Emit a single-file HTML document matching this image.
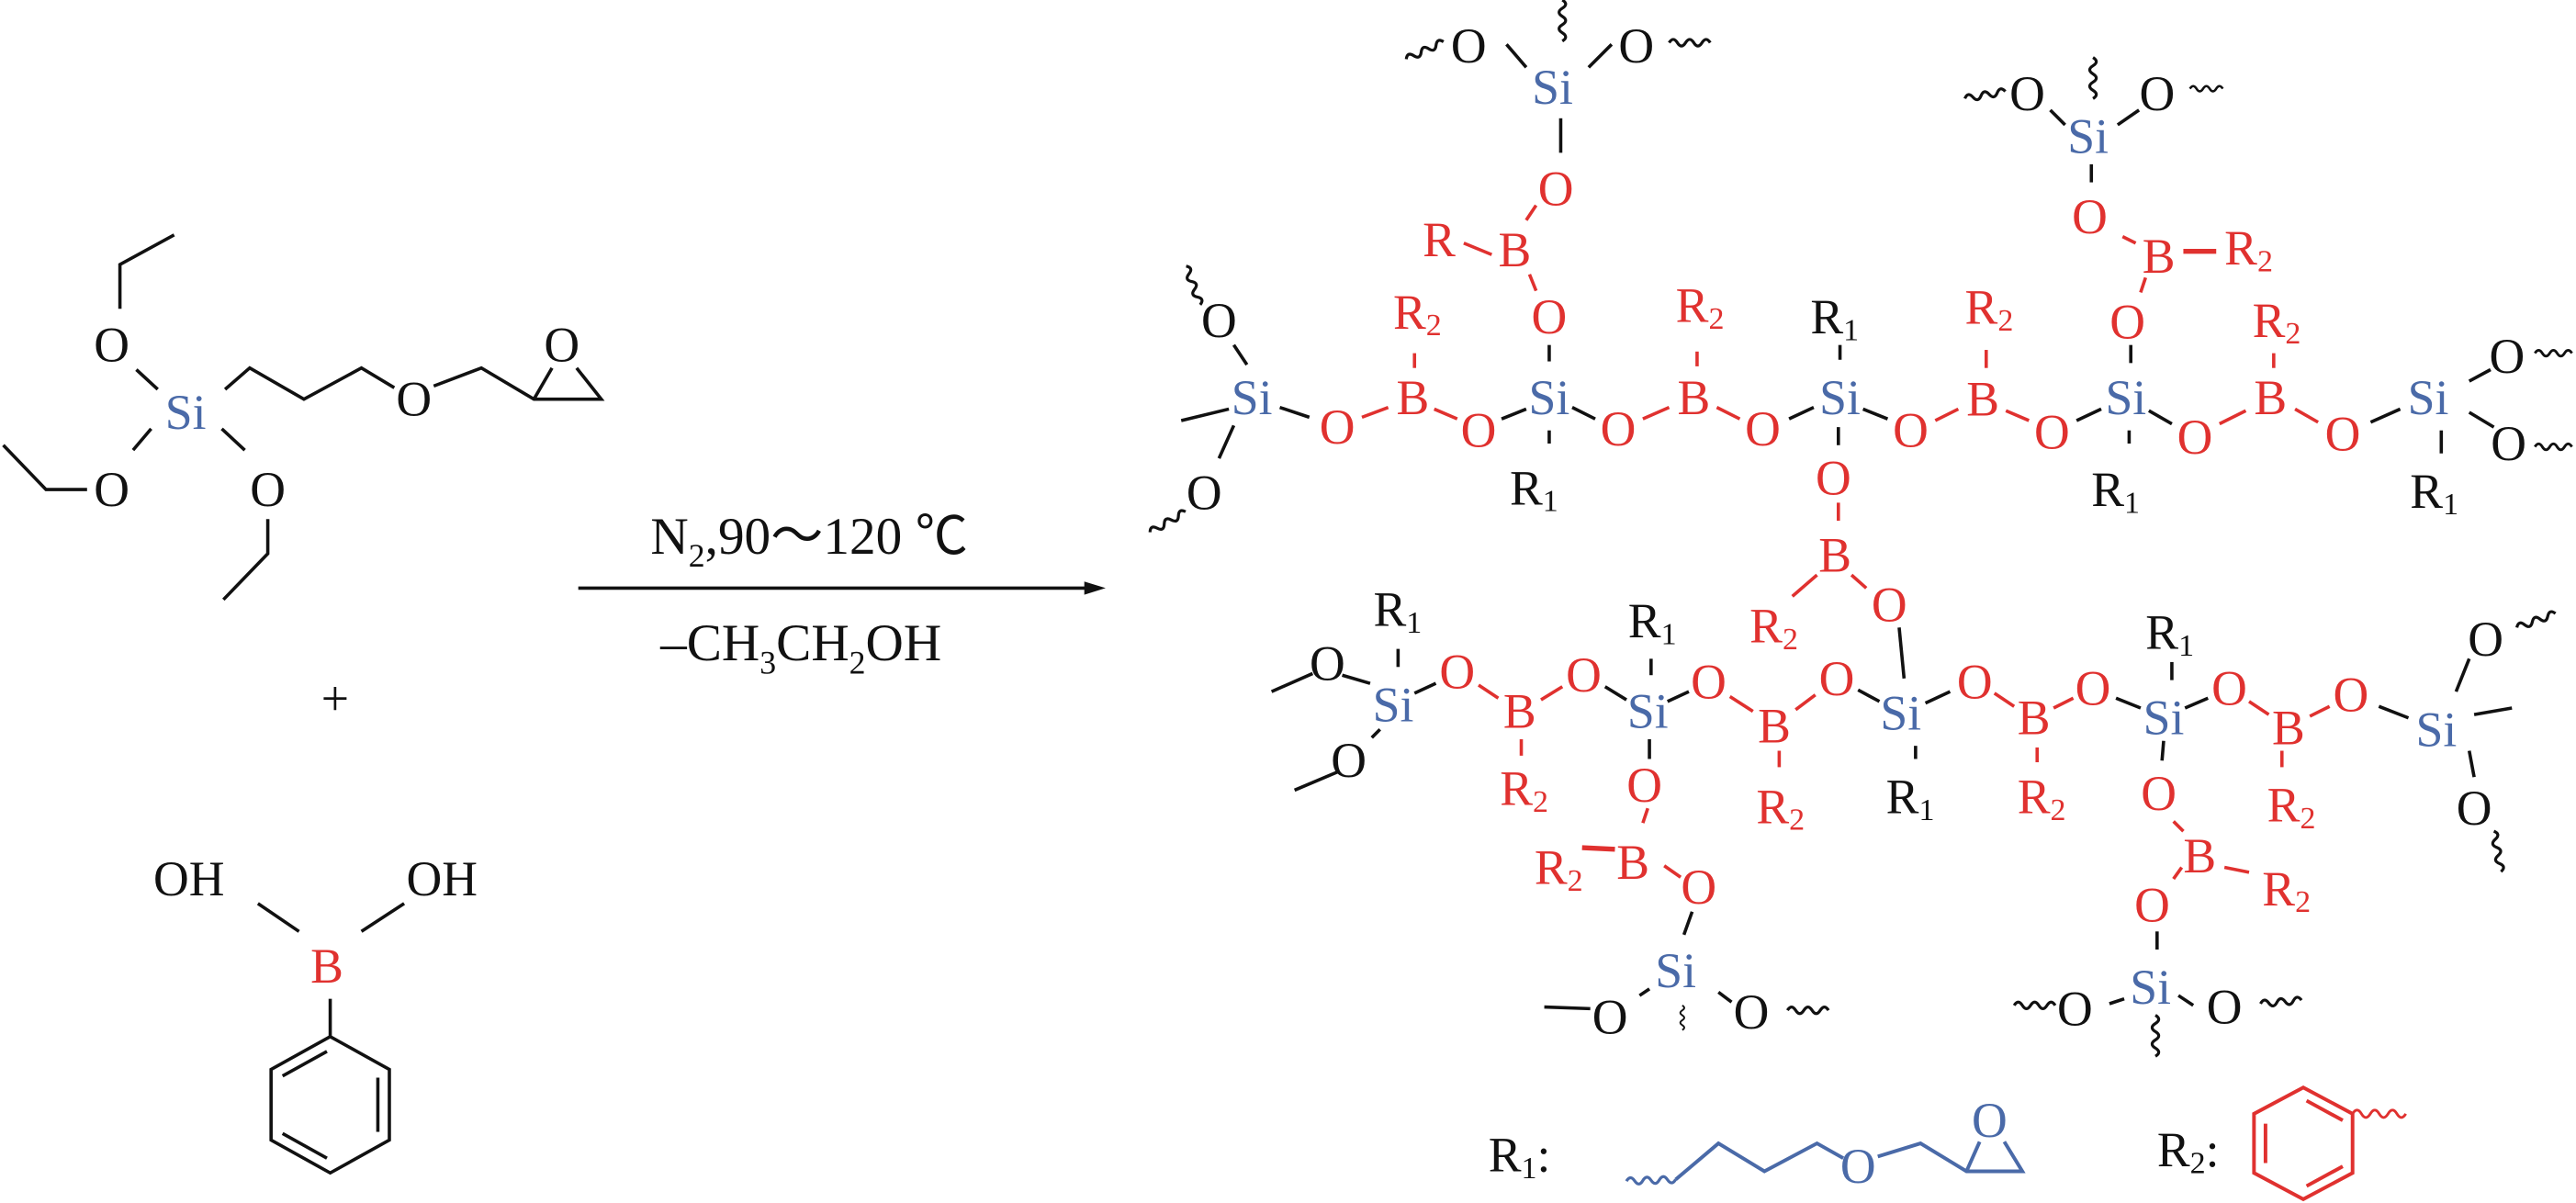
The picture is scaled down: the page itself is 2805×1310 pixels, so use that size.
<!DOCTYPE html>
<html><head><meta charset="utf-8"><style>
html,body{margin:0;padding:0;background:#fff;}
svg{display:block;}
text{font-family:"Liberation Serif",serif;font-size:30px;}
.k{fill:#111;} .r{fill:#e0312f;} .b{fill:#4a6aa8;}
.t{text-anchor:middle;dominant-baseline:central;}
</style></head><body>
<svg width="2805" height="1310" viewBox="0 0 1568 732.3" preserveAspectRatio="none" xmlns="http://www.w3.org/2000/svg">
<defs><path id="w" d="M0 0 q2.5 -4 5 0 t5 0 t5 0 t5 0 t5 0" fill="none" stroke="#111" stroke-width="1.8"/>
<path id="wb" d="M0 0 q2.5 -4 5 0 t5 0 t5 0 t5 0 t5 0 t5 0" fill="none" stroke="#4a6aa8" stroke-width="1.8"/>
<path id="wr" d="M0 0 q3 -5 6 0 t6 0 t6 0 t6 0 t6 0 t6 0" fill="none" stroke="#e0312f" stroke-width="1.8"/></defs>

<!-- left reactant -->
<g stroke="#111" stroke-width="2" fill="none">
<polyline points="73,188 73,161 106,143"/>
<line x1="83" y1="225" x2="96" y2="237"/>
<polyline points="137,237 152,224 185,243 220,224 240,236"/>
<polyline points="264,235 293,224 325,243 366,243 351,224"/>
<line x1="325" y1="243" x2="336" y2="224"/>
<line x1="92" y1="261" x2="81" y2="274"/>
<polyline points="53,298 28,298 2,271"/>
<line x1="135" y1="261" x2="149" y2="274"/>
<polyline points="163,316 163,337 136,365"/>
<line x1="157" y1="550" x2="182" y2="567"/>
<line x1="220" y1="567" x2="246" y2="550"/>
<line x1="201" y1="608" x2="201" y2="631"/>
<polygon points="201,631 237,651 237,694 201,714 165,694 165,651"/>
<line x1="172" y1="655" x2="199" y2="640"/>
<line x1="230" y1="656" x2="230" y2="689"/>
<line x1="172" y1="690" x2="199" y2="705"/>
<line x1="352" y1="358" x2="664" y2="358"/>
</g>
<polygon points="673,358 660,354 660,362" fill="#111"/>
<text class="t b" x="113" y="251">Si</text>
<text class="t k" x="68" y="210">O</text>
<text class="t k" x="252" y="243">O</text>
<text class="t k" x="342" y="210">O</text>
<text class="t k" x="68" y="298">O</text>
<text class="t k" x="163" y="298">O</text>
<text class="t k" x="204" y="425">+</text>
<text class="t k" x="115" y="535">OH</text>
<text class="t k" x="269" y="535">OH</text>
<text class="t r" x="199" y="588">B</text>
<text class="k" x="396" y="337" style="font-size:32px">N<tspan dy="8" style="font-size:20px">2</tspan><tspan dy="-8">,90～120 ℃</tspan></text>
<text class="k" x="402" y="402" style="font-size:32px">–CH<tspan dy="8" style="font-size:20px">3</tspan><tspan dy="-8">CH</tspan><tspan dy="8" style="font-size:20px">2</tspan><tspan dy="-8">OH</tspan></text>

<!-- product bonds -->
<g stroke="#111" stroke-width="2">
<line x1="917" y1="27" x2="929" y2="41"/><line x1="967" y1="41" x2="981" y2="27"/>
<line x1="950" y1="72" x2="950" y2="93"/>
<line x1="943" y1="210" x2="943" y2="220"/>
<line x1="1248" y1="67" x2="1257" y2="76"/><line x1="1289" y1="76" x2="1302" y2="67"/>
<line x1="1273" y1="100" x2="1273" y2="111"/>
<line x1="1297" y1="210" x2="1297" y2="221"/>
<line x1="751" y1="210" x2="759" y2="222"/>
<line x1="719" y1="256" x2="748" y2="249"/>
<line x1="751" y1="259" x2="742" y2="279"/>
<line x1="1503" y1="232" x2="1516" y2="225"/>
<line x1="1503" y1="251" x2="1518" y2="260"/>
<line x1="1486" y1="262" x2="1486" y2="276"/>
<line x1="1120" y1="210" x2="1120" y2="219"/>
<line x1="943" y1="262" x2="943" y2="270"/>
<line x1="1296" y1="262" x2="1296" y2="270"/>
<line x1="1119" y1="260" x2="1119" y2="271"/>
<!-- top row Si-O -->
<line x1="779" y1="248" x2="797" y2="254"/><line x1="914" y1="255" x2="929" y2="249"/>
<line x1="957" y1="248" x2="971" y2="255"/><line x1="1089" y1="255" x2="1104" y2="248"/>
<line x1="1134" y1="249" x2="1149" y2="255"/><line x1="1264" y1="256" x2="1279" y2="249"/>
<line x1="1308" y1="250" x2="1322" y2="258"/><line x1="1443" y1="257" x2="1461" y2="249"/>
<!-- lower row -->
<line x1="861" y1="422" x2="874" y2="416"/><line x1="977" y1="418" x2="990" y2="426"/>
<line x1="1015" y1="427" x2="1028" y2="421"/><line x1="1131" y1="420" x2="1144" y2="427"/>
<line x1="1172" y1="428" x2="1187" y2="421"/><line x1="1288" y1="425" x2="1303" y2="431"/>
<line x1="1330" y1="431" x2="1344" y2="425"/><line x1="1448" y1="430" x2="1466" y2="437"/>
<line x1="1156" y1="382" x2="1159" y2="413"/>
<line x1="774" y1="421" x2="799" y2="410"/><line x1="817" y1="411" x2="834" y2="416"/>
<line x1="835" y1="449" x2="840" y2="444"/><line x1="788" y1="481" x2="814" y2="470"/>
<line x1="851" y1="395" x2="851" y2="406"/><line x1="1005" y1="401" x2="1005" y2="411"/>
<line x1="1322" y1="403" x2="1322" y2="414"/><line x1="1166" y1="454" x2="1166" y2="462"/>
<line x1="1495" y1="421" x2="1503" y2="401"/><line x1="1506" y1="435" x2="1529" y2="431"/>
<line x1="1503" y1="457" x2="1506" y2="473"/>
<line x1="1004" y1="450" x2="1004" y2="462"/>
<line x1="1030" y1="555" x2="1025" y2="569"/>
<line x1="940" y1="613" x2="968" y2="614"/><line x1="998" y1="606" x2="1004" y2="602"/>
<line x1="1046" y1="604" x2="1054" y2="610"/>
<line x1="1317" y1="451" x2="1316" y2="463"/>
<line x1="1313" y1="567" x2="1313" y2="578"/>
<line x1="1284" y1="611" x2="1293" y2="608"/><line x1="1326" y1="606" x2="1335" y2="612"/>
</g>
<g stroke="#e0312f" stroke-width="2">
<line x1="935" y1="125" x2="929" y2="134"/><line x1="891" y1="148" x2="908" y2="155"/>
<line x1="931" y1="167" x2="935" y2="177"/>
<line x1="1292" y1="144" x2="1300" y2="148"/><line x1="1329" y1="153" x2="1349" y2="153" stroke-width="3"/>
<line x1="1306" y1="169" x2="1303" y2="178"/>
<line x1="1119" y1="306" x2="1119" y2="317"/>
<line x1="1106" y1="350" x2="1091" y2="363"/><line x1="1127" y1="350" x2="1136" y2="358"/>
<line x1="829" y1="254" x2="845" y2="248"/><line x1="873" y1="249" x2="887" y2="255"/>
<line x1="1000" y1="255" x2="1016" y2="248"/><line x1="1045" y1="248" x2="1059" y2="255"/>
<line x1="1178" y1="256" x2="1192" y2="249"/><line x1="1221" y1="250" x2="1235" y2="256"/>
<line x1="1351" y1="258" x2="1367" y2="250"/><line x1="1397" y1="249" x2="1411" y2="257"/>
<line x1="861" y1="215" x2="861" y2="224"/><line x1="1033" y1="214" x2="1033" y2="223"/>
<line x1="1209" y1="213" x2="1209" y2="224"/><line x1="1384" y1="215" x2="1384" y2="224"/>
<line x1="900" y1="417" x2="912" y2="425"/><line x1="938" y1="426" x2="951" y2="418"/>
<line x1="1053" y1="424" x2="1067" y2="433"/><line x1="1093" y1="432" x2="1105" y2="423"/>
<line x1="1214" y1="422" x2="1226" y2="430"/><line x1="1250" y1="431" x2="1262" y2="425"/>
<line x1="1369" y1="427" x2="1381" y2="435"/><line x1="1406" y1="436" x2="1418" y2="430"/>
<line x1="926" y1="450" x2="926" y2="460"/><line x1="1083" y1="457" x2="1083" y2="467"/>
<line x1="1240" y1="455" x2="1240" y2="464"/><line x1="1389" y1="457" x2="1389" y2="467"/>
<line x1="1003" y1="492" x2="1000" y2="501"/>
<line x1="963" y1="516" x2="983" y2="517" stroke-width="3"/>
<line x1="1013" y1="527" x2="1023" y2="534"/>
<line x1="1323" y1="500" x2="1329" y2="506"/>
<line x1="1354" y1="528" x2="1369" y2="531"/>
<line x1="1328" y1="528" x2="1323" y2="535"/>
</g>
<!-- wavy -->
<use href="#w" transform="translate(856,36) rotate(-25)"/>
<use href="#w" transform="translate(1016,26)"/>
<use href="#w" transform="translate(951,0) rotate(90)"/>
<use href="#w" transform="translate(1196,60) rotate(-10)"/>
<use href="#w" transform="translate(1333,54) scale(0.8)"/>
<use href="#w" transform="translate(1274,35) rotate(90)"/>
<use href="#w" transform="translate(722,162) rotate(70)"/>
<use href="#w" transform="translate(700,324) rotate(-30)"/>
<use href="#w" transform="translate(1543,215) scale(0.9)"/>
<use href="#w" transform="translate(1543,272) scale(0.9)"/>
<use href="#w" transform="translate(1532,382) rotate(-20)"/>
<use href="#w" transform="translate(1518,506) rotate(80)"/>
<use href="#w" transform="translate(1088,615)"/>
<use href="#w" transform="translate(1024,612) rotate(90) scale(0.6)"/>
<use href="#w" transform="translate(1226,612)"/>
<use href="#w" transform="translate(1376,611) rotate(-5)"/>
<use href="#w" transform="translate(1312,618) rotate(90)"/>

<!-- product atom labels -->
<g class="t">
<text class="k t" x="894" y="28">O</text><text class="b t" x="945" y="53">Si</text><text class="k t" x="996" y="28">O</text>
<text class="r t" x="947" y="115">O</text><text class="r t" x="922" y="152">B</text><text class="r t" x="876" y="146">R</text>
<text class="r t" x="943" y="193">O</text>
<text class="k t" x="1234" y="57">O</text><text class="b t" x="1271" y="83">Si</text><text class="k t" x="1313" y="57">O</text>
<text class="r t" x="1272" y="132">O</text><text class="r t" x="1314" y="156">B</text>
<text class="r t" x="1295" y="196">O</text>
<text class="k t" x="742" y="195">O</text><text class="k t" x="733" y="300">O</text>
<text class="k t" x="1526" y="217">O</text><text class="k t" x="1527" y="270">O</text>
<text class="b t" x="762" y="242">Si</text><text class="r t" x="814" y="260">O</text><text class="r t" x="860" y="242">B</text><text class="r t" x="900" y="262">O</text>
<text class="b t" x="943" y="242">Si</text><text class="r t" x="985" y="261">O</text><text class="r t" x="1031" y="242">B</text><text class="r t" x="1073" y="261">O</text>
<text class="b t" x="1120" y="242">Si</text><text class="r t" x="1163" y="262">O</text><text class="r t" x="1207" y="243">B</text><text class="r t" x="1249" y="263">O</text>
<text class="b t" x="1294" y="242">Si</text><text class="r t" x="1336" y="266">O</text><text class="r t" x="1382" y="242">B</text><text class="r t" x="1426" y="264">O</text>
<text class="b t" x="1478" y="242">Si</text>
<text class="r t" x="1116" y="291">O</text><text class="r t" x="1117" y="338">B</text><text class="r t" x="1150" y="368">O</text>
<text class="k t" x="808" y="404">O</text><text class="k t" x="821" y="463">O</text>
<text class="b t" x="848" y="429">Si</text><text class="r t" x="887" y="409">O</text><text class="r t" x="925" y="433">B</text><text class="r t" x="964" y="411">O</text>
<text class="b t" x="1003" y="433">Si</text><text class="r t" x="1040" y="415">O</text><text class="r t" x="1080" y="442">B</text><text class="r t" x="1118" y="413">O</text>
<text class="b t" x="1157" y="434">Si</text><text class="r t" x="1202" y="415">O</text><text class="r t" x="1238" y="437">B</text><text class="r t" x="1274" y="419">O</text>
<text class="b t" x="1317" y="437">Si</text><text class="r t" x="1357" y="419">O</text><text class="r t" x="1393" y="443">B</text><text class="r t" x="1431" y="423">O</text>
<text class="b t" x="1483" y="444">Si</text>
<text class="k t" x="1513" y="389">O</text><text class="k t" x="1506" y="492">O</text>
<text class="r t" x="1001" y="478">O</text><text class="r t" x="994" y="525">B</text><text class="r t" x="1034" y="540">O</text>
<text class="b t" x="1020" y="591">Si</text><text class="k t" x="980" y="619">O</text><text class="k t" x="1066" y="616">O</text>
<text class="r t" x="1314" y="483">O</text><text class="r t" x="1339" y="521">B</text><text class="r t" x="1310" y="551">O</text>
<text class="b t" x="1309" y="601">Si</text><text class="k t" x="1263" y="614">O</text><text class="k t" x="1354" y="613">O</text>
</g>
<!-- R labels (start anchored) -->
<g style="dominant-baseline:central">
<text class="r" x="848" y="190">R<tspan dy="8" style="font-size:19px">2</tspan></text>
<text class="r" x="1020" y="186">R<tspan dy="8" style="font-size:19px">2</tspan></text>
<text class="k" x="1102" y="193">R<tspan dy="8" style="font-size:19px">1</tspan></text>
<text class="r" x="1196" y="187">R<tspan dy="8" style="font-size:19px">2</tspan></text>
<text class="r" x="1371" y="195">R<tspan dy="8" style="font-size:19px">2</tspan></text>
<text class="r" x="1354" y="151">R<tspan dy="8" style="font-size:19px">2</tspan></text>
<text class="k" x="919" y="297">R<tspan dy="8" style="font-size:19px">1</tspan></text>
<text class="k" x="1273" y="298">R<tspan dy="8" style="font-size:19px">1</tspan></text>
<text class="k" x="1467" y="299">R<tspan dy="8" style="font-size:19px">1</tspan></text>
<text class="r" x="1065" y="381">R<tspan dy="8" style="font-size:19px">2</tspan></text>
<text class="k" x="836" y="371">R<tspan dy="8" style="font-size:19px">1</tspan></text>
<text class="k" x="991" y="378">R<tspan dy="8" style="font-size:19px">1</tspan></text>
<text class="k" x="1306" y="385">R<tspan dy="8" style="font-size:19px">1</tspan></text>
<text class="r" x="913" y="480">R<tspan dy="8" style="font-size:19px">2</tspan></text>
<text class="r" x="1069" y="491">R<tspan dy="8" style="font-size:19px">2</tspan></text>
<text class="k" x="1148" y="485">R<tspan dy="8" style="font-size:19px">1</tspan></text>
<text class="r" x="1228" y="485">R<tspan dy="8" style="font-size:19px">2</tspan></text>
<text class="r" x="1380" y="490">R<tspan dy="8" style="font-size:19px">2</tspan></text>
<text class="r" x="934" y="528">R<tspan dy="8" style="font-size:19px">2</tspan></text>
<text class="r" x="1377" y="541">R<tspan dy="8" style="font-size:19px">2</tspan></text>
<text class="k" x="906" y="703">R<tspan dy="8" style="font-size:19px">1</tspan><tspan dy="-8">:</tspan></text>
<text class="k" x="1313" y="700">R<tspan dy="8" style="font-size:19px">2</tspan><tspan dy="-8">:</tspan></text>
</g>
<!-- legend R1 -->
<use href="#wb" transform="translate(990,719) rotate(-2)"/>
<g stroke="#4a6aa8" stroke-width="2.2" fill="none">
<polyline points="1020,718 1046,696 1074,713 1106,696 1122,705"/>
<polyline points="1143,704 1169,696 1197,713 1231,713 1220,695"/>
<line x1="1197" y1="713" x2="1205" y2="695"/>
</g>
<text class="b t" x="1131" y="710">O</text>
<text class="b t" x="1211" y="682">O</text>
<!-- legend R2 -->
<g stroke="#e0312f" stroke-width="2.2" fill="none">
<polygon points="1402,662 1432,678 1432,714 1402,730 1372,714 1372,678"/>
<line x1="1404" y1="670" x2="1426" y2="682"/>
<line x1="1379" y1="684" x2="1379" y2="708"/>
<line x1="1404" y1="722" x2="1426" y2="710"/>
</g>
<use href="#wr" transform="translate(1432,678) scale(0.9)"/>
</svg>
</body></html>
